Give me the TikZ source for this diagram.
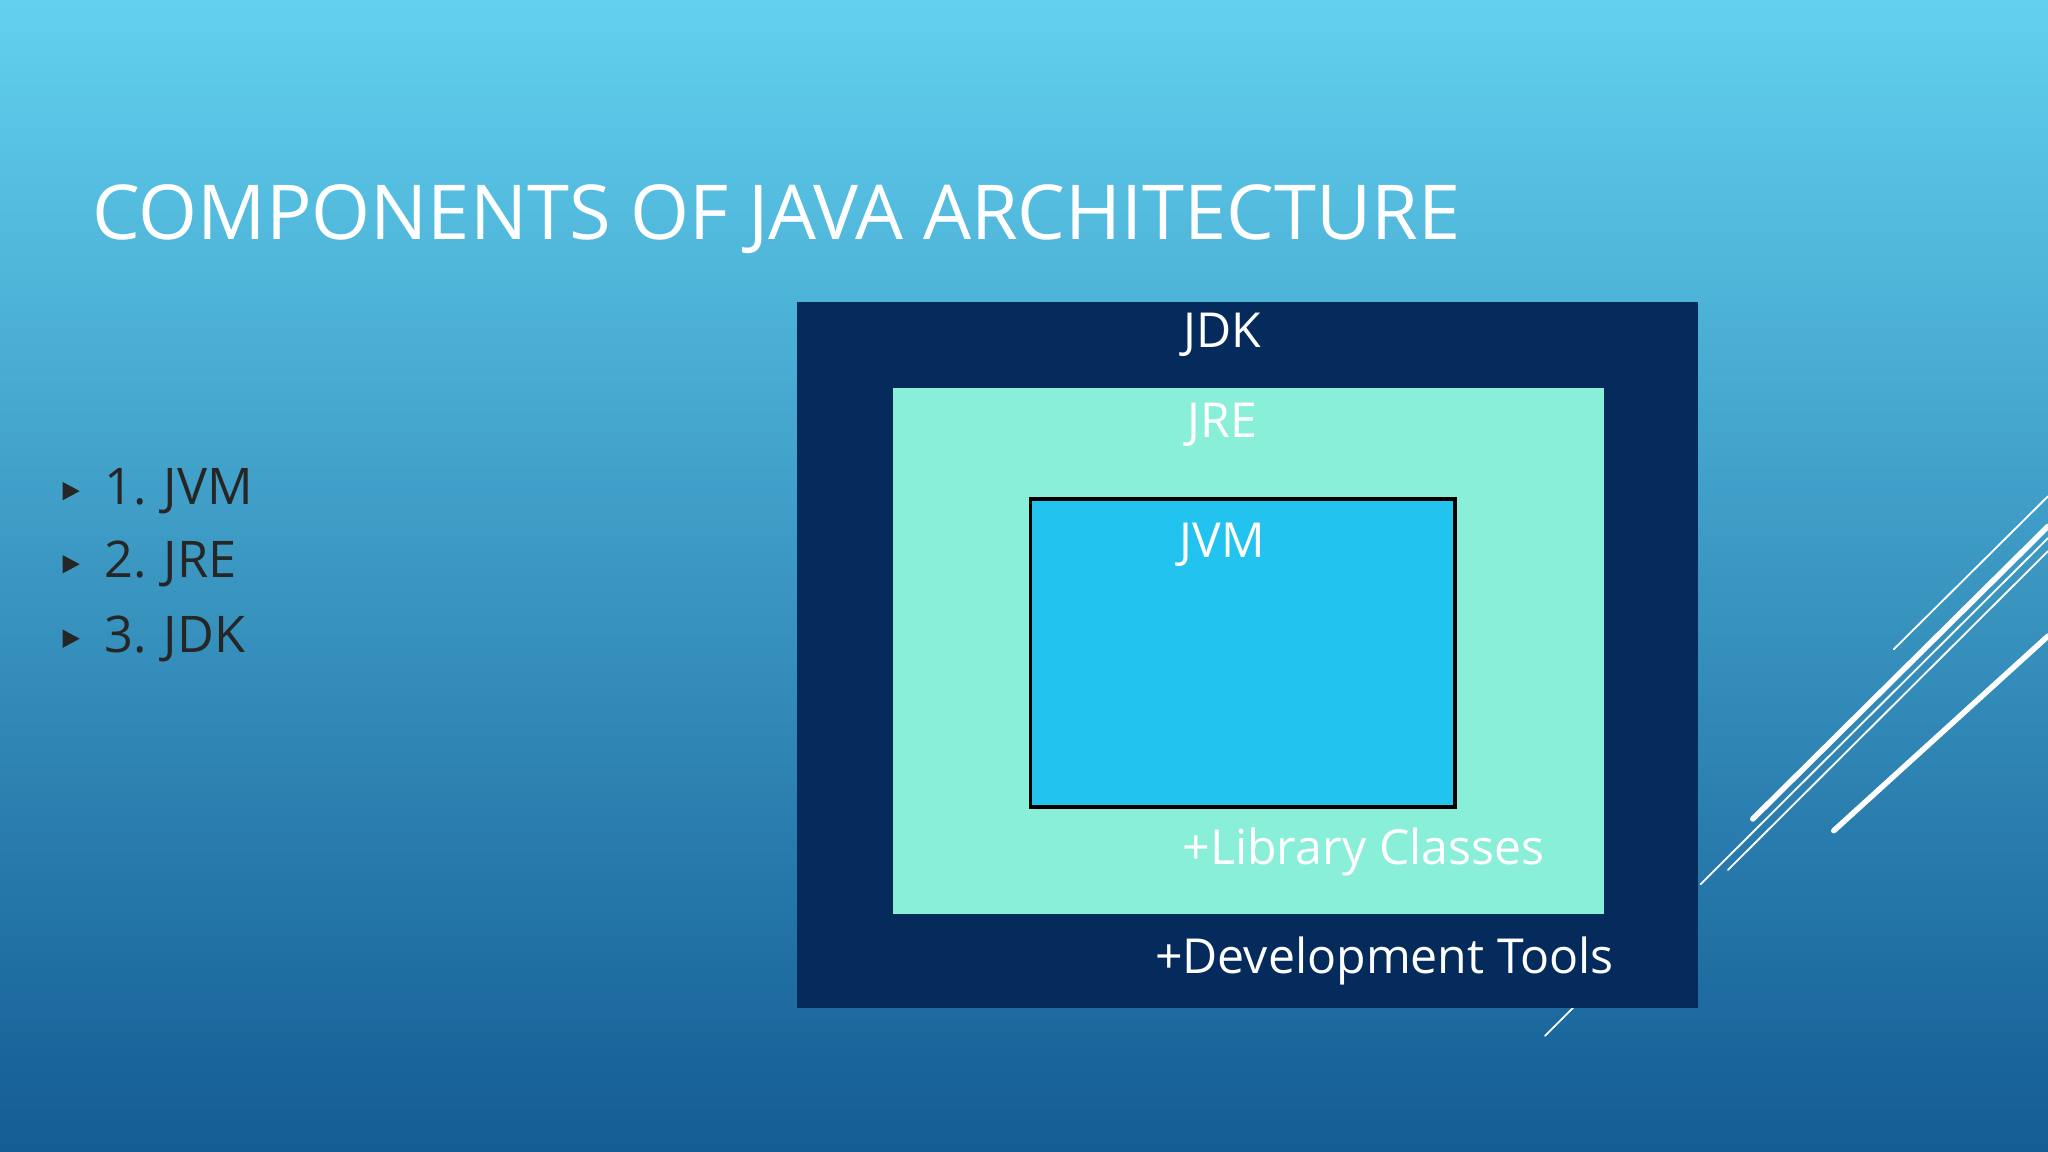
\documentclass[tikz,border=0pt]{standalone}
\usepackage{fontspec}
\setmainfont{Open Sans}
\definecolor{jdkblue}{HTML}{042B5B}
\definecolor{jremint}{HTML}{8AEFD9}
\definecolor{jvmcyan}{HTML}{22C3EE}
\definecolor{bgtop}{HTML}{62D1EF}
\definecolor{bgbot}{HTML}{135C94}
\tikzset{
  lbl/.style={text=white, font=\fontsize{10.5}{12}\selectfont, inner sep=0pt},
  item/.style={text=black!85, font=\fontsize{11}{13}\selectfont, anchor=west, inner sep=0pt},
  deco/.style={white, line cap=round}
}
\begin{document}
\begin{tikzpicture}[x=0.01cm, y=-0.01cm]

  % Hintergrund
  \shade[top color=bgtop, bottom color=bgbot] (0,0) rectangle (1568,882);
  \useasboundingbox (0,0) rectangle (1568,882);

  % Titel
  \node[anchor=base west, text=white, inner sep=0pt,
        font=\fontsize{16.5}{20}\selectfont] (title) at (70,183)
        {COMPONENTS OF JAVA ARCHITECTURE};

  % Aufzählung
  \foreach \t/\y [count=\i] in {1. JVM/376, 2. JRE/432, 3. JDK/489} {
    \fill[black!85] (48,\y-7) -- (61,\y) -- (48,\y+7) -- cycle;
    \node[item] (item\i) at (79,\y) {\t};
  }

  % Dekorative Linien
  \draw[deco, thin] (1450,497) -- (1568,380);
  \draw[deco, very thick] (1342,627) -- (1568,403);
  \draw[deco, thin] (1302,677) -- (1568,412);
  \draw[deco, thin] (1323,666) -- (1568,422);
  \draw[deco, very thick] (1404,636) -- (1568,487);
  \draw[deco, thin] (1183,793) -- (1210,766);

  % Kästen
  \fill[jdkblue] (610,231) rectangle (1300,772);
  \fill[jremint] (684,297) rectangle (1228,700);
  \filldraw[fill=jvmcyan, draw=black, thick] (789,382) rectangle (1114,618);

  % Beschriftungen
  \node[lbl] (jdk) at (936,256) {JDK};
  \node[lbl] (jre) at (936,325) {JRE};
  \node[lbl] (jvm) at (936,417) {JVM};
  \node[lbl] (lib) at (1044,652) {+Library Classes};
  \node[lbl] (dev) at (1060,736) {+Development Tools};

\end{tikzpicture}
\end{document}
